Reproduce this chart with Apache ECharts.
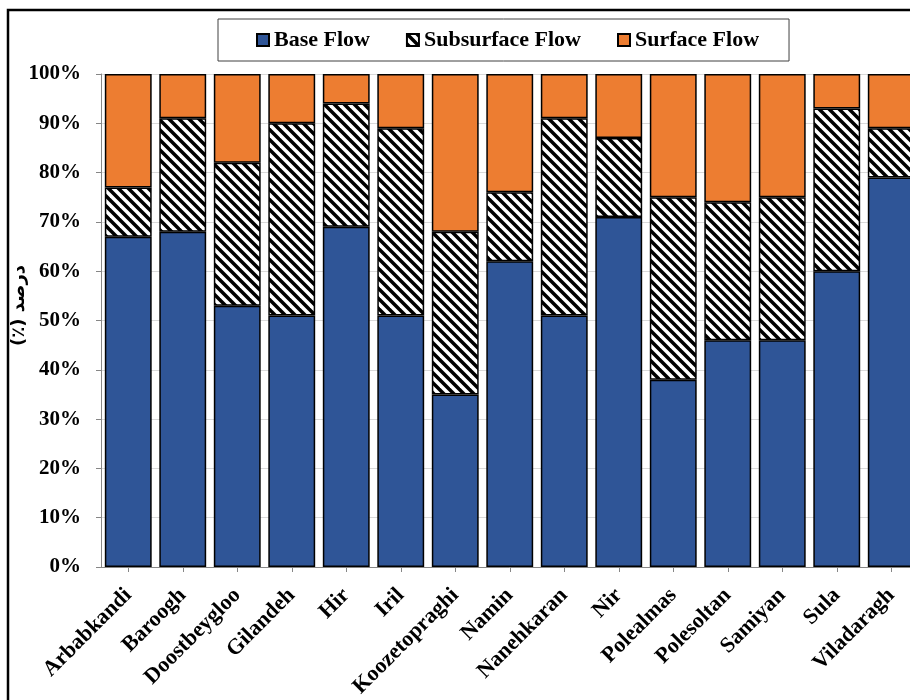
<!DOCTYPE html>
<html>
<head>
<meta charset="utf-8">
<script src="https://cdn.jsdelivr.net/npm/echarts@6/dist/echarts.min.js"></script>
<style>
  html, body { margin: 0; padding: 0; background: #fff; overflow: hidden; width: 910px; height: 700px; }
  #chart { position: absolute; left: 0; top: 0; width: 930px; height: 700px; }
</style>
</head>
<body>
<div id="chart"></div>
<script>
// Watersheds and the share (%) of each flow component
const categories = ['Arbabkandi', 'Baroogh', 'Doostbeygloo', 'Gilandeh', 'Hir', 'Iril', 'Koozetopraghi',
  'Namin', 'Nanehkaran', 'Nir', 'Polealmas', 'Polesoltan', 'Samiyan', 'Sula', 'Viladaragh'];
const baseFlow       = [67, 68, 53, 51, 69, 51, 35, 62, 51, 71, 38, 46, 46, 60, 79];
const subsurfaceFlow = [10, 23, 29, 39, 25, 38, 33, 14, 40, 16, 37, 28, 29, 33, 10];
const surfaceFlow    = [23,  9, 18, 10,  6, 11, 32, 24,  9, 13, 25, 26, 25,  7, 11];
const yTicks = [0, 10, 20, 30, 40, 50, 60, 70, 80, 90, 100];

// Black/white diagonal hatch tile for the subsurface component
function hatchTile(size, lineW) {
  const c = document.createElement('canvas');
  c.width = size; c.height = size;
  const ctx = c.getContext('2d');
  ctx.fillStyle = '#ffffff';
  ctx.fillRect(0, 0, size, size);
  ctx.strokeStyle = '#000000';
  ctx.lineWidth = lineW;
  for (const k of [-size, 0, size]) {
    ctx.beginPath();
    ctx.moveTo(k - 2, -2);
    ctx.lineTo(k + size + 2, size + 2);
    ctx.stroke();
  }
  return c;
}
const hatch = { image: hatchTile(10, 3.5), repeat: 'repeat' };

const FONT = 'Liberation Serif';
const chart = echarts.init(document.getElementById('chart'), null, { renderer: 'canvas' });

const barStyle = (color) => ({ color: color, borderColor: '#000', borderWidth: 1.5 });

chart.setOption({
  animation: false,
  backgroundColor: '#fff',
  graphic: [{
    type: 'rect', silent: true, z: 100,
    shape: { x: 8, y: 10, width: 1200, height: 1200 },
    style: { fill: 'none', stroke: '#000', lineWidth: 2.5 }
  }],
  legend: {
    left: 218, top: 19,
    padding: [10, 30, 10, 38],
    borderColor: '#404040', borderWidth: 1,
    itemWidth: 12, itemHeight: 12, itemGap: 36,
    icon: 'rect',
    textStyle: { fontFamily: FONT, fontWeight: 'bold', fontSize: 22, color: '#000' },
    data: ['Base Flow', 'Subsurface Flow', 'Surface Flow']
  },
  grid: { left: 101, top: 74, bottom: 133, right: 11.5, containLabel: false, outerBoundsMode: 'none' },
  xAxis: {
    type: 'category',
    data: categories,
    axisLine: { lineStyle: { color: '#868686', width: 1 } },
    axisTick: { show: true, alignWithLabel: true, length: 5, lineStyle: { color: '#868686' } },
    axisLabel: {
      interval: 0, rotate: 45, margin: 25,
      fontFamily: FONT, fontWeight: 'bold', fontSize: 22, color: '#000'
    }
  },
  yAxis: {
    type: 'value',
    min: yTicks[0], max: yTicks[yTicks.length - 1], interval: 10,
    name: '(٪) درصد',
    nameLocation: 'middle',
    nameGap: 73,
    nameMoveOverlap: false,
    nameTextStyle: { fontFamily: 'DejaVu Sans', fontWeight: 'bold', fontSize: 18, color: '#000', padding: [0, 0, 0, 30] },
    axisLine: { show: true, lineStyle: { color: '#868686', width: 1 } },
    axisTick: { show: true, inside: false, length: 5, lineStyle: { color: '#868686' } },
    splitLine: { show: true, lineStyle: { color: '#d9d9d9', width: 1 } },
    axisLabel: {
      margin: 20,
      formatter: '{value}%',
      fontFamily: FONT, fontWeight: 'bold', fontSize: 21, color: '#000'
    }
  },
  series: [
    { name: 'Base Flow', type: 'bar', stack: 'flow', barCategoryGap: '14%', data: baseFlow, itemStyle: barStyle('#2F5597') },
    { name: 'Subsurface Flow', type: 'bar', stack: 'flow', data: subsurfaceFlow, itemStyle: barStyle(hatch) },
    { name: 'Surface Flow', type: 'bar', stack: 'flow', data: surfaceFlow, itemStyle: barStyle('#ED7D31') }
  ]
});
</script>
</body>
</html>
